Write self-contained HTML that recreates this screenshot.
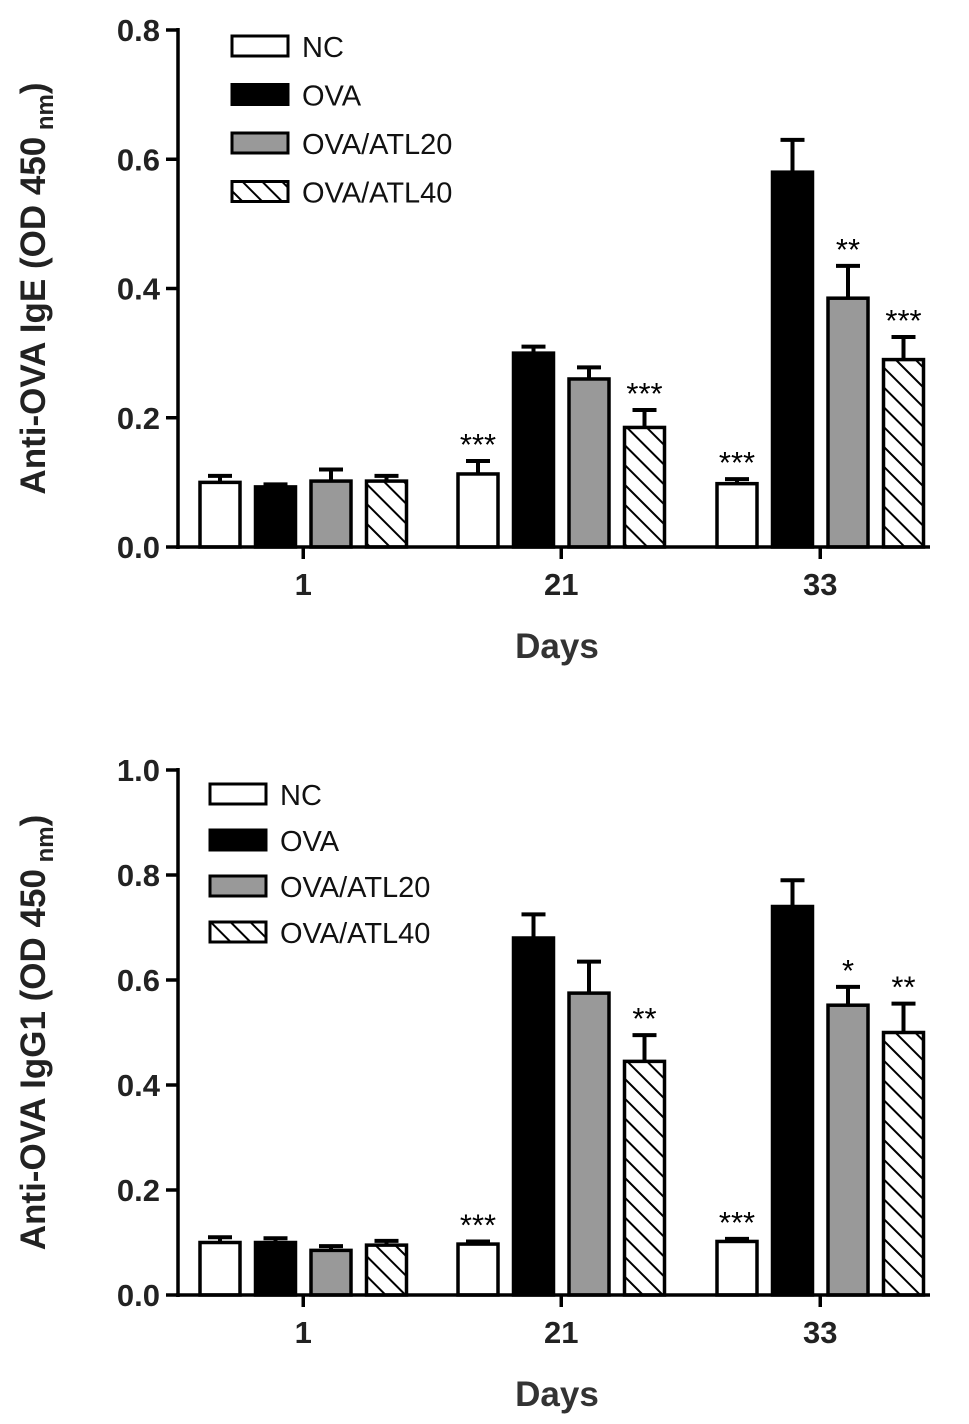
<!DOCTYPE html>
<html><head><meta charset="utf-8"><style>
body{margin:0;background:#fff;}
svg{display:block;font-family:"Liberation Sans",Arial,sans-serif;}
</style></head><body>
<svg id="chart" width="969" height="1424" viewBox="0 0 969 1424">
<defs>
<pattern id="hatch" patternUnits="userSpaceOnUse" width="14" height="14" patternTransform="rotate(-45)">
<rect width="14" height="14" fill="#fff"/>
<line x1="0" y1="0" x2="0" y2="14" stroke="#000" stroke-width="4"/>
</pattern>
</defs>
</svg>
<script>
const groups = ["1","21","33"];
const seriesNames = ["NC","OVA","OVA/ATL20","OVA/ATL40"];
const igeValues = [[0.100,0.093,0.102,0.102],[0.113,0.300,0.260,0.185],[0.098,0.580,0.385,0.290]];
const igeErrors = [[0.010,0.004,0.018,0.008],[0.020,0.010,0.018,0.027],[0.007,0.050,0.050,0.035]];
const igeStars = [["","","",""],["***","","","***"],["***","","**","***"]];
const igeTicks = [0.0,0.2,0.4,0.6,0.8];
const igg1Values = [[0.100,0.100,0.085,0.095],[0.097,0.680,0.575,0.445],[0.102,0.740,0.552,0.500]];
const igg1Errors = [[0.010,0.008,0.008,0.008],[0.005,0.045,0.060,0.050],[0.005,0.050,0.035,0.055]];
const igg1Stars = [["","","",""],["***","","","**"],["***","","*","**"]];
const igg1Ticks = [0.0,0.2,0.4,0.6,0.8,1.0];

const svg = document.getElementById('chart');
const NS = 'http://www.w3.org/2000/svg';
function mk(tag, attrs, parent){
  const e = document.createElementNS(NS, tag);
  for (const k in attrs) e.setAttribute(k, attrs[k]);
  (parent||svg).appendChild(e);
  return e;
}
const fills = ['#fff','#000','#999','url(#hatch)'];

function panel(opt){
  const g = mk('g', {});
  
  
  const x0 = 178, x1 = 930;
  const y = v => opt.yZero - (v - 0) / opt.yMax * (opt.yZero - opt.yTop);
  const groupStart = [200, 458, 717];
  const barW = 40, step = 55.5;
  opt.values.forEach((row, gi) => {
    row.forEach((v, si) => {
      const bx = groupStart[gi] + si * step;
      const top = y(v + opt.errors[gi][si]);
      const el = mk('line', {x1: bx + barW/2, x2: bx + barW/2, y1: y(v), y2: top, stroke:'#000','stroke-width':4}, g);
      
      
      const cap = mk('line', {x1: bx + barW/2 - 12, x2: bx + barW/2 + 12, y1: top, y2: top, stroke:'#000','stroke-width':4}, g);
      
      
      const r = mk('rect', {x: bx, y: y(v), width: barW, height: opt.yZero - y(v), fill: fills[si], stroke:'#000','stroke-width':3.5}, g);
      
      
      const s = opt.stars[gi][si];
      if (s) {
        const t = mk('text', {x: bx + barW/2, y: top - 6, 'text-anchor':'middle','font-size':31,fill:'#000'}, g);
        t.textContent = s;
        
        
      }
    });
  });
  const ya = mk('line', {x1:x0,x2:x0,y1:opt.yTop-2,y2:opt.yZero+2,stroke:'#000','stroke-width':3.5}, g);
  
  
  const xa = mk('line', {x1:x0-2,x2:x1,y1:opt.yZero,y2:opt.yZero,stroke:'#000','stroke-width':3.5}, g);
  
  
  opt.ticks.forEach(tv => {
    const ty = y(tv);
    const tk = mk('line', {x1:x0-12,x2:x0,y1:ty,y2:ty,stroke:'#000','stroke-width':3.5}, g);
    
    
    const tl = mk('text', {x:x0-18,y:ty+11,'text-anchor':'end','font-size':31,'font-weight':'bold',fill:'#222'}, g);
    tl.textContent = tv.toFixed(1);
    
    
  });
  groups.forEach((gl, gi) => {
    const cx = groupStart[gi] + (3*step + barW)/2;
    const tk = mk('line', {x1:cx,x2:cx,y1:opt.yZero,y2:opt.yZero+12,stroke:'#000','stroke-width':3.5}, g);
    
    
    const tl = mk('text', {x:cx,y:opt.yZero+48,'text-anchor':'middle','font-size':31,'font-weight':'bold',fill:'#222'}, g);
    tl.textContent = gl;
    
    
  });
  const xt = mk('text', {x:557,y:opt.yZero+111,'text-anchor':'middle','font-size':35,'font-weight':'bold',fill:'#333'}, g);
  xt.textContent = 'Days';
  
  
  const cy = (opt.yTop + opt.yZero)/2;
  const yt = mk('text', {x:0,y:0,'text-anchor':'middle','font-size':35,'font-weight':'bold',fill:'#222',transform:`translate(45,${cy}) rotate(-90)`}, g);
  yt.innerHTML = opt.ytitle + ' (OD 450<tspan font-size="24" dy="8"> nm</tspan><tspan dy="-8">)</tspan>';
  
  
  seriesNames.forEach((n, i) => {
    const ly = opt.legendY + i * opt.legendStep;
    const lr = mk('rect', {x:opt.legendX,y:ly-10,width:56,height:20,fill:fills[i],stroke:'#000','stroke-width':3}, g);
    
    
    const lt = mk('text', {x:opt.legendX+70,y:ly+11,'font-size':29,fill:'#111'}, g);
    lt.textContent = n;
    
    
  });
}
panel({name:'ige-chart', values:igeValues, errors:igeErrors, stars:igeStars, ticks:igeTicks, yZero:547, yTop:30, yMax:0.8, ytitle:'Anti-OVA IgE', legendX:232, legendY:46, legendStep:48.5});
panel({name:'igg1-chart', values:igg1Values, errors:igg1Errors, stars:igg1Stars, ticks:igg1Ticks, yZero:1295, yTop:770, yMax:1.0, ytitle:'Anti-OVA IgG1', legendX:210, legendY:794, legendStep:46});
</script>
</body></html>
